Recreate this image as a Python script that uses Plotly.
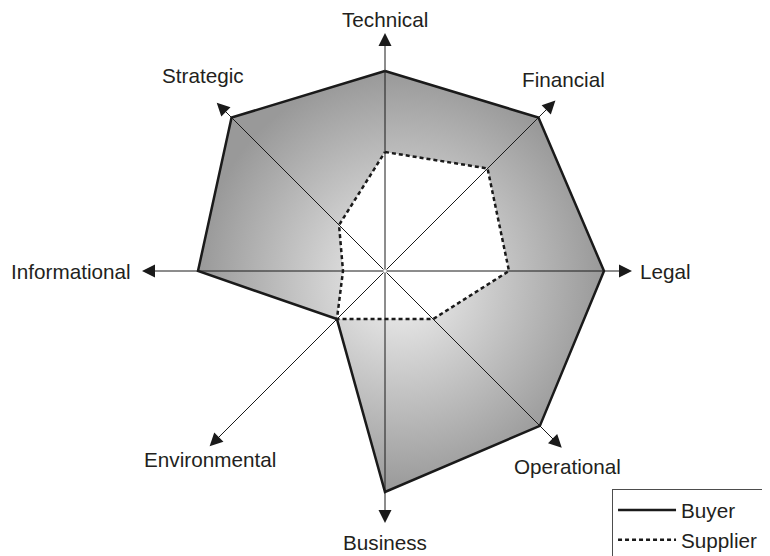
import numpy as np
import plotly.graph_objects as go

# Axis names, going clockwise from the top
categories = ["Technical", "Financial", "Legal", "Operational",
              "Business", "Environmental", "Informational", "Strategic"]
angles_deg = [90, 45, 0, -45, -90, -135, 180, 135]

# Scores
buyer = [10.0, 10.85, 10.95, 10.95, 11.05, 3.4, 9.35, 10.85]
supplier = [5.95, 7.25, 6.2, 3.4, 2.4, 3.4, 2.1, 3.25]

# Length of each arrow axis
axis_len = [11.9, 12.05, 12.35, 12.5, 12.6, 12.4, 12.15, 11.9]

FONT = "Liberation Sans, Arial, sans-serif"
TEXT = "#231f20"
INK = "#1a1a1a"

ang = np.radians(angles_deg)


def to_xy(r):
    r = np.asarray(r, dtype=float)
    x = r * np.cos(ang)
    y = r * np.sin(ang)
    # close the polygon
    return np.append(x, x[0]), np.append(y, y[0])


bx, by = to_xy(buyer)
sx, sy = to_xy(supplier)

fig = go.Figure()

# shaded buyer area, white supplier area on top of it
fig.add_trace(go.Scatter(
    x=bx, y=by, mode="lines", line=dict(width=0),
    fill="toself",
    fillgradient=dict(type="radial",
                      colorscale=[[0, "#f2f2f2"], [1, "#999999"]]),
    showlegend=False, hoverinfo="skip",
))
fig.add_trace(go.Scatter(
    x=sx, y=sy, mode="lines", line=dict(width=0),
    fill="toself", fillcolor="white",
    showlegend=False, hoverinfo="skip",
))

# outlines
fig.add_trace(go.Scatter(
    x=bx, y=by, mode="lines", name="Buyer",
    line=dict(color=INK, width=2.5), hoverinfo="skip",
))
fig.add_trace(go.Scatter(
    x=sx, y=sy, mode="lines", name="Supplier",
    line=dict(color=INK, width=2.5, dash="4px,3px"), hoverinfo="skip",
))

# arrow axes from the centre
for a, L in zip(ang, axis_len):
    fig.add_annotation(
        x=L * np.cos(a), y=L * np.sin(a), ax=0, ay=0,
        xref="x", yref="y", axref="x", ayref="y",
        text="", showarrow=True, arrowhead=2, arrowsize=2.6,
        arrowwidth=1, arrowcolor=INK, standoff=0,
    )

# axis labels: radius, xanchor, yanchor
label_pos = {
    "Technical": (12.6, "center", "middle"),
    "Financial": (12.6, "center", "bottom"),
    "Legal": (12.65, "left", "middle"),
    "Operational": (12.9, "center", "top"),
    "Business": (12.9, "center", "top"),
    "Environmental": (12.4, "center", "top"),
    "Informational": (12.6, "right", "middle"),
    "Strategic": (12.9, "center", "bottom"),
}
for name, a in zip(categories, ang):
    r, xa, ya = label_pos[name]
    fig.add_annotation(
        x=r * np.cos(a), y=r * np.sin(a), xref="x", yref="y",
        text=name, showarrow=False, xanchor=xa, yanchor=ya,
        font=dict(family=FONT, size=20.7, color=TEXT),
    )

# the page body adds an 8px margin, so the figure is 762x548
fig.update_layout(
    width=762, height=548,
    margin=dict(l=0, r=0, t=0, b=0, autoexpand=False),
    paper_bgcolor="white", plot_bgcolor="white",
    xaxis=dict(range=[-18.85, 19.25], visible=False, fixedrange=True),
    yaxis=dict(range=[-14.25, 13.15], visible=False, fixedrange=True),
    showlegend=True,
    legend=dict(x=0.7927, y=0.1223, xanchor="left", yanchor="top",
                bordercolor="#4d4d4d", borderwidth=1, bgcolor="white",
                itemwidth=58, entrywidth=175,
                font=dict(family=FONT, size=20.7, color=TEXT)),
)

fig.write_html("out.html")
